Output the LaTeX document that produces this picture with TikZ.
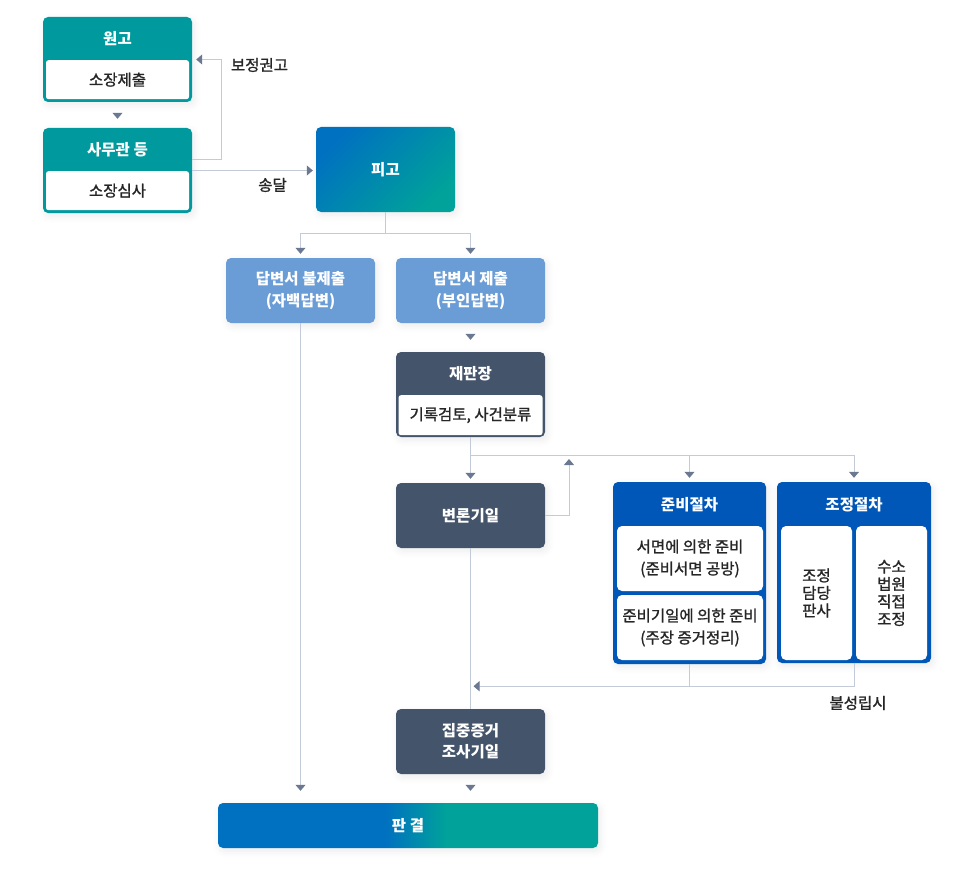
\documentclass[tikz,border=0pt]{standalone}
\usepackage{fontspec}
\setmainfont{Noto Sans CJK KR}
\newfontfamily\mediumfont{Noto Sans CJK KR}[FakeBold=1.2]
\usetikzlibrary{arrows.meta,calc,shadows.blur}
\definecolor{myteal}{rgb}{0.0,0.604,0.620}
\definecolor{myblue}{rgb}{0.0,0.443,0.753}
\definecolor{mygreen}{rgb}{0.0,0.635,0.604}
\definecolor{mysky}{rgb}{0.416,0.612,0.839}
\definecolor{myslate}{rgb}{0.267,0.329,0.420}
\definecolor{mynavy}{rgb}{0.0,0.341,0.718}
\definecolor{myline}{rgb}{0.765,0.796,0.847}
\definecolor{myarrow}{rgb}{0.42,0.47,0.57}
\definecolor{mytext}{gray}{0.15}
\pgfdeclarehorizontalshading{verdictshade}{100bp}{color(0bp)=(myblue); color(47bp)=(myblue); color(55bp)=(mygreen); color(100bp)=(mygreen)}

\begin{document}
\begin{tikzpicture}[x=1pt,y=-1pt,
every node/.style={font=\fontsize{15.5}{22}\selectfont, align=center, inner sep=0pt},
glow/.style={blur shadow={shadow xshift=2pt, shadow yshift=-3pt, shadow opacity=8, shadow blur radius=7pt, shadow blur steps=8}},
box/.style={rounded corners=5pt, minimum width=149pt, minimum height=65pt, glow},
card/.style={box, fill=#1, minimum height=85pt},
head/.style={text=white, font=\fontsize{15.5}{22}\selectfont\bfseries},
sheet/.style={fill=white, rounded corners=2.5pt, text=mytext, font=\fontsize{15.5}{22}\selectfont\mediumfont},
note/.style={text=mytext, font=\fontsize{15.5}{22}\selectfont\mediumfont},
line/.style={myline, line width=1pt},
pointer/.style={-{Triangle[width=10pt,length=6pt,color=myarrow]}}]
\useasboundingbox (0,0) rectangle (971,869);
% plaintiff and clerk
\node[card=myteal] (plaintiff) at (117.5,59.5) {};
\node[head] at ($(plaintiff.north)+(0,21.5)$) {원고};
\node[sheet, minimum width=143pt, minimum height=39pt] (filing) at ($(plaintiff.south)+(0,-22.5)$) {소장제출};
\node[card=myteal] (clerk) at (117.5,170.5) {};
\node[head] at ($(clerk.north)+(0,21.5)$) {사무관 등};
\node[sheet, minimum width=143pt, minimum height=39pt] (review) at ($(clerk.south)+(0,-22.5)$) {소장심사};
% defendant
\node[box, minimum width=139pt, minimum height=85pt, top color=myblue, bottom color=mygreen, shading angle=45, head] (defendant) at (385.5,169.5) {피고};
% answers
\node[box, fill=mysky, head] (noanswer) at (300.5,290.5) {답변서 불제출\\(자백답변)};
\node[box, fill=mysky, head] (answer) at (470.5,290.5) {답변서 제출\\(부인답변)};
% presiding judge
\node[card=myslate] (judge) at (470.5,394.5) {};
\node[head] at ($(judge.north)+(0,22)$) {재판장};
\node[sheet, minimum width=144pt, minimum height=40pt] (records) at ($(judge.south)+(0,-22)$) {기록검토, 사건분류};
\node[box, fill=myslate, head] (hearing) at (470.5,515.5) {변론기일};
% preparation
\node[box, fill=mynavy, minimum width=153pt, minimum height=182pt] (prep) at (689.5,573) {};
\node[head] at ($(prep.north)+(0,23)$) {준비절차};
\node[sheet, rounded corners=5pt, minimum width=146pt, minimum height=65pt] (written) at (690,558.5) {서면에 의한 준비\\(준비서면 공방)};
\node[sheet, rounded corners=5pt, minimum width=146pt, minimum height=65pt] (prepdate) at (690,627.5) {준비기일에 의한 준비\\(주장 증거정리)};
% mediation
\node[box, fill=mynavy, minimum width=154pt, minimum height=181pt] (mediation) at (854,572.5) {};
\node[head] at ($(mediation.north)+(0,23)$) {조정절차};
\node[sheet, rounded corners=5pt, minimum width=71pt, minimum height=134pt, font=\fontsize{15.5}{17.5}\selectfont\mediumfont] (mjudge) at (816.5,593) {조정\\담당\\판사};
\node[sheet, rounded corners=5pt, minimum width=71pt, minimum height=134pt, font=\fontsize{15.5}{17.5}\selectfont\mediumfont] (mcourt) at (891.5,593) {수소\\법원\\직접\\조정};
% evidence and verdict
\node[box, fill=myslate, head, font=\fontsize{15.5}{21}\selectfont\bfseries] (evidence) at (470.5,741.5) {집중증거\\조사기일};
\node[box, shade, shading=verdictshade, minimum width=380pt, minimum height=45pt, head] (verdict) at (408,825.5) {판 결};
% connectors
\draw[line, pointer, shorten <=11pt, shorten >=9pt] (plaintiff) -- (clerk);
\draw[line, pointer, shorten >=4pt] ([yshift=11pt]clerk.east) -- ++(29,0) |- (plaintiff.east);
\node[note] at (259.5,65) {보정권고};
\draw[line, pointer, shorten >=3pt] (clerk.east) -- (clerk.east -| defendant.west);
\node[note] at (272.5,185) {송달};
\draw[line] (defendant.south) -- ++(0,21) coordinate (split);
\draw[line, pointer, shorten >=4pt] (split) -| (noanswer.north);
\draw[line, pointer, shorten >=4pt] (split) -| (answer.north);
\draw[line, pointer, shorten <=11pt, shorten >=12pt] (answer) -- (judge);
\draw[line] (judge.south) -- ++(0,18) coordinate (fork);
\draw[line, pointer, shorten >=4pt] (fork) -- (hearing.north);
\draw[line, pointer, shorten >=4pt] (fork) -| (prep.north);
\draw[line, pointer, shorten >=4pt] (fork) -| (mediation.north);
\coordinate (back) at (569,455);
\draw[line, pointer, shorten >=4pt] (hearing.east) -| (back);
\draw[line] (hearing) -- (evidence);
\draw[line] (prep.south) -- ++(0,22);
\draw[line, pointer, shorten >=3pt] (mediation.south) -- ++(0,23) coordinate (fail) -- (fail -| evidence.north);
\node[note] at (858,703) {불성립시};
\draw[line, pointer, shorten >=12pt] (noanswer) -- (noanswer.south |- verdict.north);
\draw[line, pointer, shorten <=12pt, shorten >=12pt] (evidence) -- (evidence.south |- verdict.north);
\end{tikzpicture}
\end{document}
